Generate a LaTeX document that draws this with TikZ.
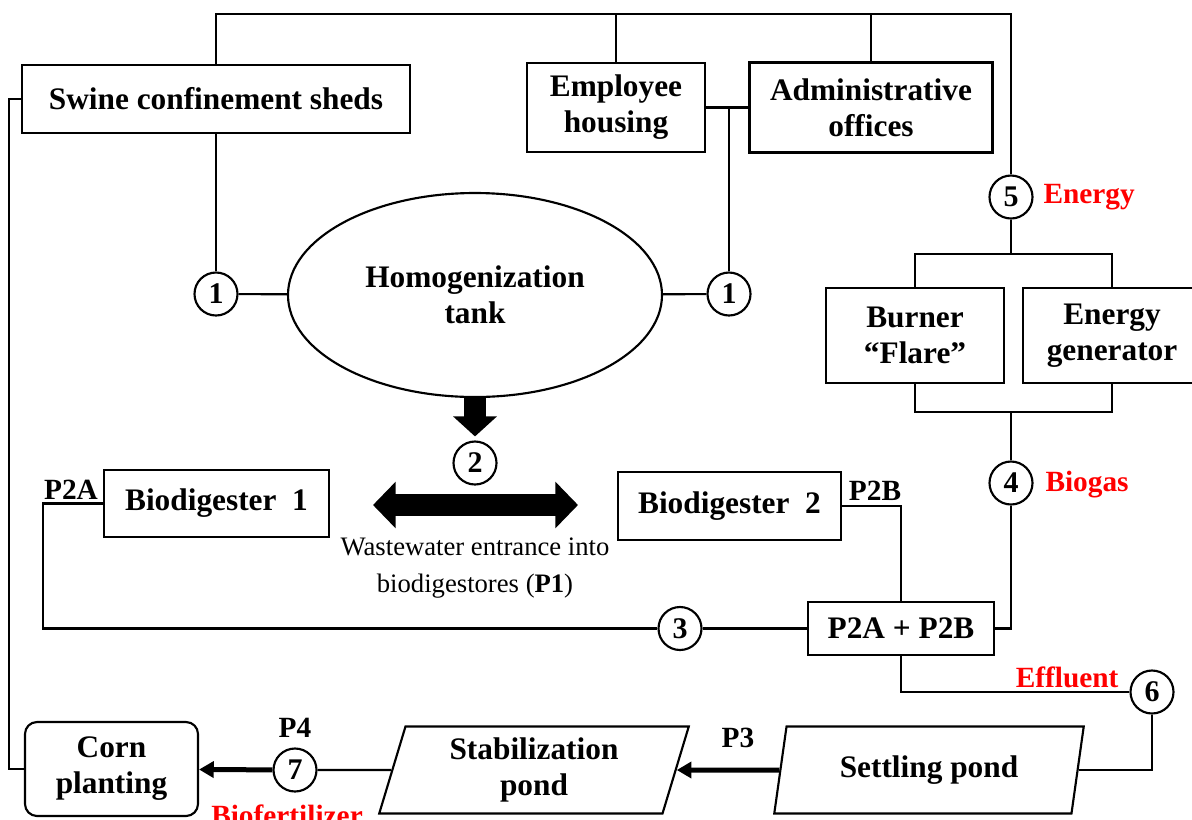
\documentclass[tikz,border=0pt]{standalone}
\usepackage{fontspec}
\setmainfont{Liberation Serif}
\usetikzlibrary{shapes.geometric,arrows.meta}

\begin{document}
\begin{tikzpicture}[x=0.75pt,y=-0.75pt,line width=1.6pt,
  sz/.style 2 args={minimum width=#1*0.75pt,minimum height=#2*0.75pt},
  blk/.style={draw,align=center,inner sep=0pt,font=\fontsize{23.5}{27}\selectfont\bfseries},
  num/.style={draw,circle,inner sep=0pt,minimum size=32.25pt,font=\fontsize{22.5}{24}\selectfont\bfseries},
  lbl/.style={font=\fontsize{22}{24}\selectfont\bfseries},
  redlbl/.style={lbl,text=red},
  pond/.style={blk,trapezium,trapezium left angle=75,trapezium right angle=105,trapezium stretches=true,sz={310}{87}},
  fatarrow/.style={line width=3.75pt,-{Triangle[length=11pt,width=12pt]}},
  bigarrow/.style={line width=16.5pt}]
\useasboundingbox (0,0) rectangle (1192,819);

% buildings
\node[blk,sz={388}{68}] (swine) at (216,99) {Swine confinement sheds};
\node[blk,sz={178}{89}] (emp) at (616,107.5) {Employee\\housing};
\node[blk,sz={243}{90}] (adm) at (871,107.5) {Administrative\\offices};
\coordinate (top) at (0,15);

% homogenization
\node[blk,ellipse,sz={374}{204}] (tank) at (475,295) {Homogenization\\tank};
\node[num] (n1a) at (216,294) {1};
\node[num] (n1b) at (729,294) {1};
\node[num] (n2) at (475,463) {2};

% biodigesters
\node[blk,sz={225}{67}] (bd1) at (216.5,503.5) {Biodigester\ \ 1};
\node[blk,sz={223}{68}] (bd2) at (729.5,506) {Biodigester\ \ 2};
\node[blk,sz={186}{53}] (mix) at (901,628.5) {P2A + P2B};
\node[num] (n3) at (680,628.5) {3};
\node[lbl] (p2a) at (71,490) {P2A};
\node[lbl] (p2b) at (875,491) {P2B};
\coordinate (dl) at (373,505);
\coordinate (dr) at (578,505);
\node[font=\fontsize{20}{27.75}\selectfont,align=center] (p1) at (475,568) {Wastewater entrance into\\biodigestores (\textbf{P1})};

% energy
\node[num] (n5) at (1011,197) {5};
\node[redlbl,anchor=west] (energy) at (1038,197) {Energy};
\node[blk,sz={178}{95}] (burner) at (915,335.5) {Burner\\“Flare”};
\node[blk,sz={178}{95}] (gen) at (1112,335.5) {Energy\\generator};
\node[num] (n4) at (1011,483) {4};
\node[redlbl,anchor=west] (biogas) at (1040,485) {Biogas};

% ponds
\node[num] (n6) at (1152,692) {6};
\node[redlbl,anchor=east] (eff) at (1124,677) {Effluent};
\node[pond] (settle) at (929,770) {Settling pond};
\node[pond] (stab) at (534,770) {Stabilization\\pond};
\node[lbl] (p3) at (738,738) {P3};
\node[num] (n7) at (295,770) {7};
\node[lbl] (p4) at (295,728) {P4};
\node[redlbl,anchor=base] (biofert) at (287,825) {Biofertilizer};
\node[blk,rounded corners=9pt,sz={173}{94}] (corn) at (111.5,769) {Corn\\planting};

% top lines
\draw (swine.north) -- ++(0,-50) -| (n5);
\draw (emp.north) -- (emp.north |- top);
\draw (adm.north) -- (adm.north |- top);
\draw (emp.east) -- (adm.west);
\draw (n1b) -- (n1b |- emp.east);
\draw (swine) -- (n1a);
\draw (n1a) -- (tank) -- (n1b);
\draw[bigarrow,-{Triangle[length=15pt,width=32pt]},shorten >=3pt] (tank.south) -- (n2.north);
\draw[bigarrow,{Triangle[length=17pt,width=34pt]}-{Triangle[length=17pt,width=34pt]}] (dl) -- (dr);

% gas lines
\draw (n5) -- ++(0,58);
\draw (burner.north) -- ++(0,-33) -| (gen.north);
\draw (burner.south) -- ++(0,28) -| (gen.south);
\draw (n4) -- ++(0,-72);
\draw (n4) |- (mix.east);

% digester lines
\draw (bd1.west) -- ++(-60,0) |- (n3);
\draw (n3) -- (mix);
\draw (bd2.east) -| (mix.north);
\draw (mix.south) |- (n6);
\draw (n6) |- (settle);
\draw[fatarrow] (settle) -- (stab);
\draw (stab) -- (n7);
\draw[fatarrow] (n7) -- (corn);
\draw (swine.west) -- ++(-12,0) |- (corn.west);
\end{tikzpicture}
\end{document}
